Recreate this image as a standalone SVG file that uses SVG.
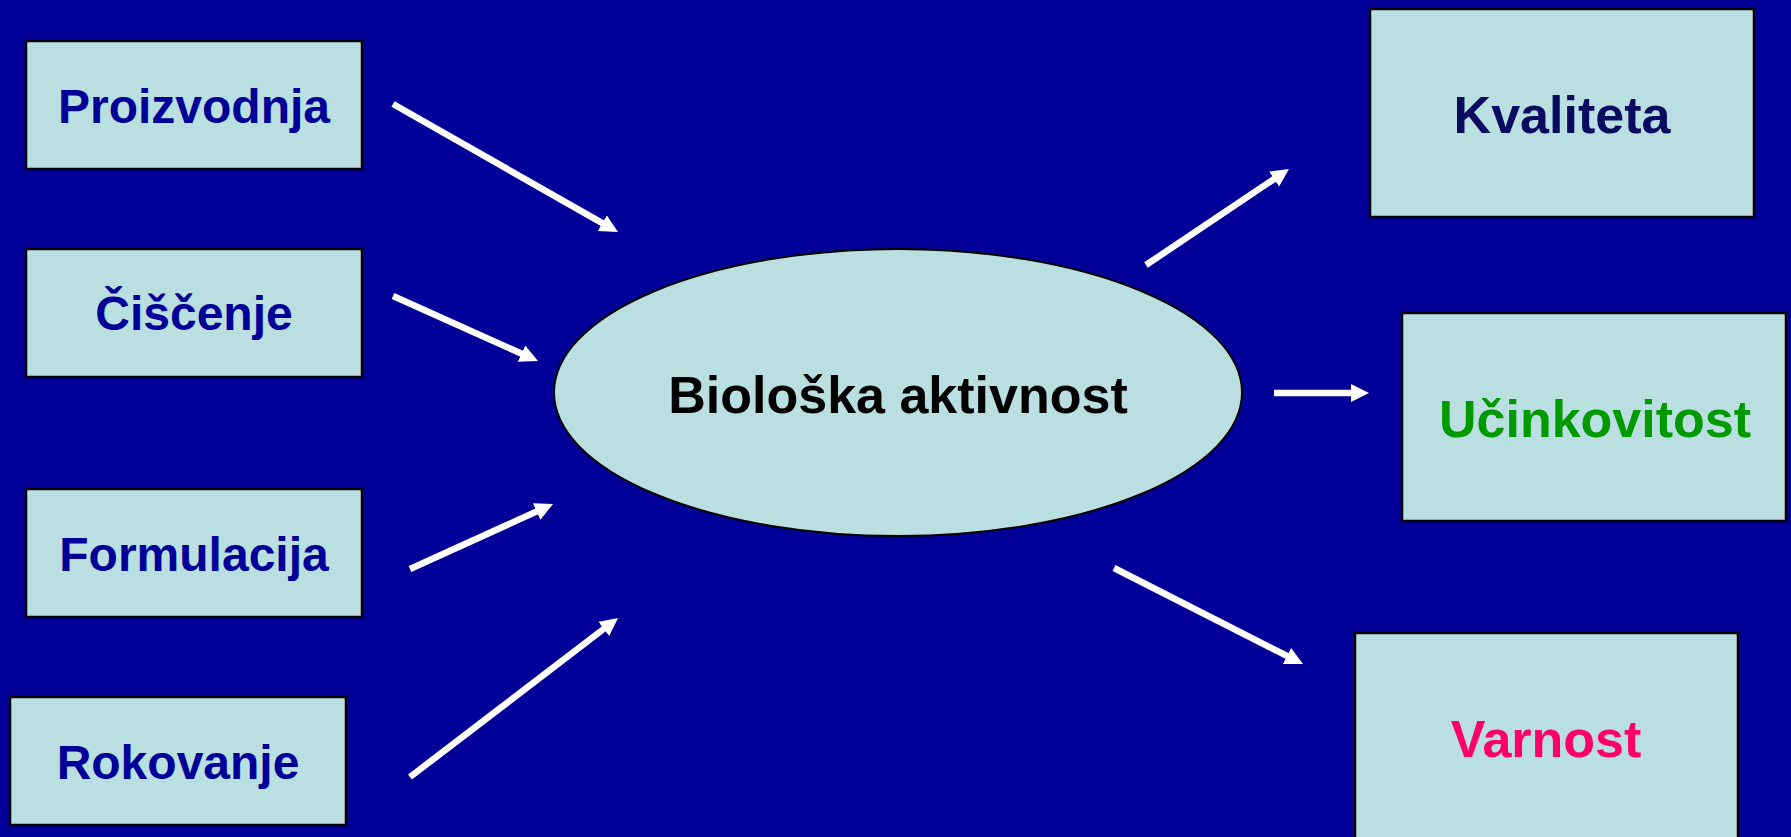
<svg xmlns="http://www.w3.org/2000/svg" width="1791" height="837" viewBox="0 0 1791 837">
<style>
.box{fill:#b9dfe1;stroke:#000;stroke-width:2.5}
.lbl{font-family:"Liberation Sans",Arial,sans-serif;font-weight:bold;text-anchor:middle}
.l48{font-size:48px;fill:#000099}
.l52{font-size:52px}
.arr{stroke:#fff;stroke-width:6.5;fill:none;marker-end:url(#ah)}
</style>
<defs>
<marker id="ah" markerUnits="userSpaceOnUse" markerWidth="20" markerHeight="20" refX="4" refY="9" orient="auto">
<path d="M0,0 L18,9 L0,18 z" fill="#fff"/>
</marker>
</defs>
<rect x="0" y="0" width="1791" height="837" fill="#000099"/>
<g id="proizvodnja"><rect class="box" x="26" y="41" width="336" height="128"/><text class="lbl l48" x="194" y="123">Proizvodnja</text></g>
<g id="ciscenje"><rect class="box" x="26" y="249" width="336" height="128"/><text class="lbl l48" x="194" y="330">Čiščenje</text></g>
<g id="formulacija"><rect class="box" x="26" y="489" width="336" height="128"/><text class="lbl l48" x="194" y="571">Formulacija</text></g>
<g id="rokovanje"><rect class="box" x="10" y="697" width="336" height="128"/><text class="lbl l48" x="178" y="779">Rokovanje</text></g>
<g id="bioloska"><ellipse cx="898" cy="392.5" rx="344" ry="143.5" fill="#b9dfe1" stroke="#000" stroke-width="2"/><text class="lbl l52" x="898" y="413" fill="#000">Biološka aktivnost</text></g>
<g id="kvaliteta"><rect class="box" x="1370" y="9" width="384" height="208"/><text class="lbl l52" x="1562" y="133" fill="#0a0a60">Kvaliteta</text></g>
<g id="ucinkovitost"><rect class="box" x="1402" y="313" width="384" height="208"/><text class="lbl l52" x="1595" y="437" fill="#009900">Učinkovitost</text></g>
<g id="varnost"><rect class="box" x="1355" y="633" width="383" height="208"/><text class="lbl l52" x="1546" y="757" fill="#ff0066">Varnost</text></g>
<g id="connectors">
<line class="arr" x1="393" y1="104" x2="605.8" y2="225.1"/>
<line class="arr" x1="393" y1="296" x2="525.2" y2="355.3"/>
<line class="arr" x1="410" y1="569" x2="540.3" y2="509.8"/>
<line class="arr" x1="410" y1="777" x2="606.9" y2="626.5"/>
<line class="arr" x1="1146" y1="265" x2="1277.4" y2="176.8"/>
<line class="arr" x1="1274" y1="393" x2="1355" y2="393"/>
<line class="arr" x1="1114" y1="568" x2="1290.5" y2="657.7"/>
</g>
</svg>
